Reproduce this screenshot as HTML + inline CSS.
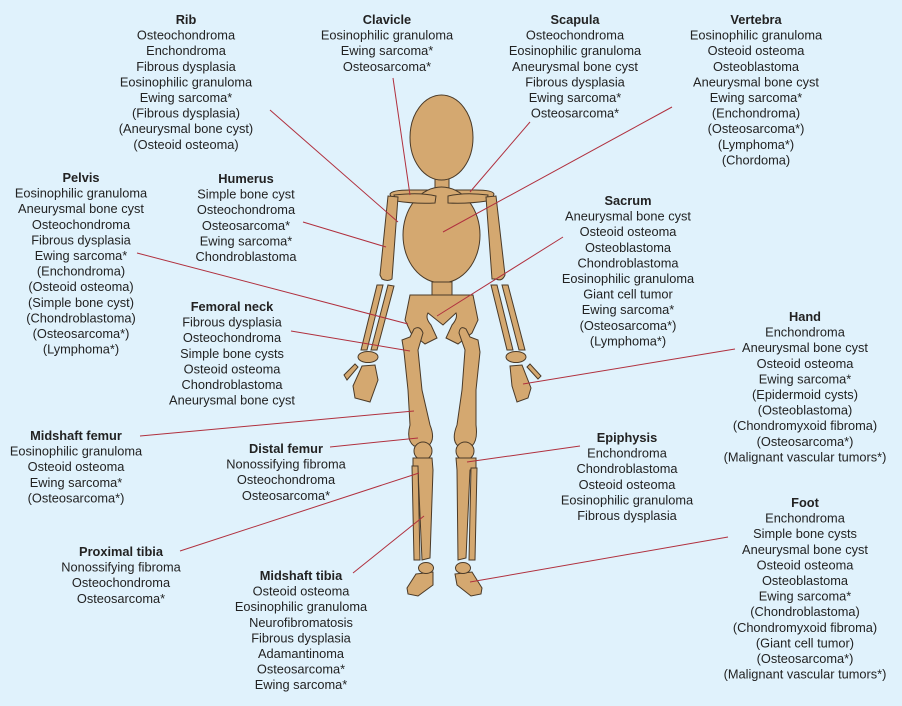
<!DOCTYPE html>
<html><head><meta charset="utf-8"><style>
html,body{margin:0;padding:0;background:#e0f2fc;}
svg{display:block;}
text{font-family:"Liberation Sans",Arial,sans-serif;font-size:12.8px;fill:#222;text-anchor:middle;}
.t{font-weight:bold;}
.b{fill:#d4a870;stroke:#4a3a28;stroke-width:1;}
.l{stroke:#b0303e;stroke-width:1;fill:none;}
</style></head><body>
<svg width="902" height="706" viewBox="0 0 902 706" xmlns="http://www.w3.org/2000/svg">
<rect width="902" height="706" fill="#e0f2fc"/>
<g class="b">
<rect x="435" y="176" width="14" height="14"/>
<ellipse cx="441.5" cy="137.5" rx="31.5" ry="42.5"/>
<path d="M390,194 Q392,190 410,190 L475,190 Q493,190 494,194 L492,200 Q470,196 441,200 Q410,196 392,200 Z"/>
<ellipse cx="441.5" cy="235" rx="38.5" ry="48"/>
<rect x="432" y="282" width="20" height="14"/>
<path d="M394,195 Q420,192 436,196 L435,203 Q415,204 396,201 Z"/>
<path d="M448,196 Q465,192 488,195 L487,201 Q467,204 448,203 Z"/>
<path d="M388,196 L398,197 L392,279 Q388,282 382,279 L380,275 Z"/>
<path d="M486,197 L496,196 L505,275 Q502,282 496,279 L492,279 Z"/>
<path d="M377,285 L383,285 L367,350 L361,350 Z" />
<path d="M388,285 L394,286 L377,350 L371,350 Z"/>
<path d="M491,285 L497,285 L513,350 L507,350 Z"/>
<path d="M502,285 L508,285 L525,350 L519,350 Z"/>
<ellipse cx="368" cy="357" rx="10" ry="5.5"/>
<ellipse cx="516" cy="357" rx="10" ry="5.5"/>
<path d="M362,366 L375,365 L378,380 L370,402 L355,398 L353,386 Z"/>
<path d="M510,366 L522,365 L531,388 L528,398 L517,402 L512,386 Z"/>
<path d="M344,375 L355,364 L358,367 L347,380 Z"/>
<path d="M527,367 L530,364 L541,376 L538,379 Z"/>
<path d="M410,295 L473,295 L478,320 L472,333 L458,344 L446,338 L452,325 Q458,318 456,313 L443,325 L428,313 Q425,318 431,325 L437,338 L425,344 L411,333 L405,320 Z"/>
<path d="M402,340 L410,337 L414,329 Q420,325 423,333 L418,350 L422,390 L430,425 Q436,440 428,446 L414,446 Q406,440 410,425 L408,390 L404,352 Z"/>
<path d="M478,340 L470,337 L466,329 Q460,325 459,333 L465,350 L462,390 L457,425 Q451,440 458,446 L472,446 Q478,440 476,425 L476,390 L480,352 Z"/>
<circle cx="423" cy="451" r="9"/>
<circle cx="465" cy="451" r="9"/>
<path d="M413,458 L432,458 L433,470 L430,558 L422,560 L418,470 L413,468 Z"/>
<path d="M412,466 L418,466 L420,560 L414,560 Z"/>
<path d="M456,458 L476,458 L476,468 L470,470 L466,558 L458,560 L457,470 Z"/>
<path d="M471,468 L477,468 L475,560 L469,560 Z"/>
<path d="M416,574 L433,572 L433,585 L418,596 L408,594 L407,588 Z"/>
<ellipse cx="426" cy="568" rx="7.5" ry="5.5"/>
<path d="M455,574 L472,572 L482,588 L481,594 L471,596 L457,585 Z"/>
<ellipse cx="463" cy="568" rx="7.5" ry="5.5"/>
</g>
<g class="l">
<line x1="270" y1="110" x2="398" y2="222"/>
<line x1="393" y1="78" x2="410" y2="195"/>
<line x1="530" y1="122" x2="470" y2="192"/>
<line x1="672" y1="107" x2="443" y2="232"/>
<line x1="303" y1="222" x2="386" y2="247"/>
<line x1="137" y1="253" x2="408" y2="324"/>
<line x1="563" y1="237" x2="437" y2="316"/>
<line x1="291" y1="331" x2="410" y2="351"/>
<line x1="735" y1="349" x2="523" y2="384"/>
<line x1="140" y1="436" x2="414" y2="411"/>
<line x1="330" y1="447" x2="418" y2="438"/>
<line x1="180" y1="551" x2="419" y2="473"/>
<line x1="580" y1="446" x2="467" y2="462"/>
<line x1="353" y1="573" x2="424" y2="516"/>
<line x1="728" y1="537" x2="470" y2="582"/>
</g>
<text x="186" y="24"><tspan class="t">Rib</tspan><tspan x="186" dy="15.6">Osteochondroma</tspan><tspan x="186" dy="15.6">Enchondroma</tspan><tspan x="186" dy="15.6">Fibrous dysplasia</tspan><tspan x="186" dy="15.6">Eosinophilic granuloma</tspan><tspan x="186" dy="15.6">Ewing sarcoma*</tspan><tspan x="186" dy="15.6">(Fibrous dysplasia)</tspan><tspan x="186" dy="15.6">(Aneurysmal bone cyst)</tspan><tspan x="186" dy="15.6">(Osteoid osteoma)</tspan></text>
<text x="387" y="24"><tspan class="t">Clavicle</tspan><tspan x="387" dy="15.6">Eosinophilic granuloma</tspan><tspan x="387" dy="15.6">Ewing sarcoma*</tspan><tspan x="387" dy="15.6">Osteosarcoma*</tspan></text>
<text x="575" y="24"><tspan class="t">Scapula</tspan><tspan x="575" dy="15.6">Osteochondroma</tspan><tspan x="575" dy="15.6">Eosinophilic granuloma</tspan><tspan x="575" dy="15.6">Aneurysmal bone cyst</tspan><tspan x="575" dy="15.6">Fibrous dysplasia</tspan><tspan x="575" dy="15.6">Ewing sarcoma*</tspan><tspan x="575" dy="15.6">Osteosarcoma*</tspan></text>
<text x="756" y="24"><tspan class="t">Vertebra</tspan><tspan x="756" dy="15.6">Eosinophilic granuloma</tspan><tspan x="756" dy="15.6">Osteoid osteoma</tspan><tspan x="756" dy="15.6">Osteoblastoma</tspan><tspan x="756" dy="15.6">Aneurysmal bone cyst</tspan><tspan x="756" dy="15.6">Ewing sarcoma*</tspan><tspan x="756" dy="15.6">(Enchondroma)</tspan><tspan x="756" dy="15.6">(Osteosarcoma*)</tspan><tspan x="756" dy="15.6">(Lymphoma*)</tspan><tspan x="756" dy="15.6">(Chordoma)</tspan></text>
<text x="81" y="182"><tspan class="t">Pelvis</tspan><tspan x="81" dy="15.6">Eosinophilic granuloma</tspan><tspan x="81" dy="15.6">Aneurysmal bone cyst</tspan><tspan x="81" dy="15.6">Osteochondroma</tspan><tspan x="81" dy="15.6">Fibrous dysplasia</tspan><tspan x="81" dy="15.6">Ewing sarcoma*</tspan><tspan x="81" dy="15.6">(Enchondroma)</tspan><tspan x="81" dy="15.6">(Osteoid osteoma)</tspan><tspan x="81" dy="15.6">(Simple bone cyst)</tspan><tspan x="81" dy="15.6">(Chondroblastoma)</tspan><tspan x="81" dy="15.6">(Osteosarcoma*)</tspan><tspan x="81" dy="15.6">(Lymphoma*)</tspan></text>
<text x="246" y="183"><tspan class="t">Humerus</tspan><tspan x="246" dy="15.6">Simple bone cyst</tspan><tspan x="246" dy="15.6">Osteochondroma</tspan><tspan x="246" dy="15.6">Osteosarcoma*</tspan><tspan x="246" dy="15.6">Ewing sarcoma*</tspan><tspan x="246" dy="15.6">Chondroblastoma</tspan></text>
<text x="628" y="205"><tspan class="t">Sacrum</tspan><tspan x="628" dy="15.6">Aneurysmal bone cyst</tspan><tspan x="628" dy="15.6">Osteoid osteoma</tspan><tspan x="628" dy="15.6">Osteoblastoma</tspan><tspan x="628" dy="15.6">Chondroblastoma</tspan><tspan x="628" dy="15.6">Eosinophilic granuloma</tspan><tspan x="628" dy="15.6">Giant cell tumor</tspan><tspan x="628" dy="15.6">Ewing sarcoma*</tspan><tspan x="628" dy="15.6">(Osteosarcoma*)</tspan><tspan x="628" dy="15.6">(Lymphoma*)</tspan></text>
<text x="232" y="311"><tspan class="t">Femoral neck</tspan><tspan x="232" dy="15.6">Fibrous dysplasia</tspan><tspan x="232" dy="15.6">Osteochondroma</tspan><tspan x="232" dy="15.6">Simple bone cysts</tspan><tspan x="232" dy="15.6">Osteoid osteoma</tspan><tspan x="232" dy="15.6">Chondroblastoma</tspan><tspan x="232" dy="15.6">Aneurysmal bone cyst</tspan></text>
<text x="805" y="321"><tspan class="t">Hand</tspan><tspan x="805" dy="15.6">Enchondroma</tspan><tspan x="805" dy="15.6">Aneurysmal bone cyst</tspan><tspan x="805" dy="15.6">Osteoid osteoma</tspan><tspan x="805" dy="15.6">Ewing sarcoma*</tspan><tspan x="805" dy="15.6">(Epidermoid cysts)</tspan><tspan x="805" dy="15.6">(Osteoblastoma)</tspan><tspan x="805" dy="15.6">(Chondromyxoid fibroma)</tspan><tspan x="805" dy="15.6">(Osteosarcoma*)</tspan><tspan x="805" dy="15.6">(Malignant vascular tumors*)</tspan></text>
<text x="76" y="440"><tspan class="t">Midshaft femur</tspan><tspan x="76" dy="15.6">Eosinophilic granuloma</tspan><tspan x="76" dy="15.6">Osteoid osteoma</tspan><tspan x="76" dy="15.6">Ewing sarcoma*</tspan><tspan x="76" dy="15.6">(Osteosarcoma*)</tspan></text>
<text x="286" y="453"><tspan class="t">Distal femur</tspan><tspan x="286" dy="15.6">Nonossifying fibroma</tspan><tspan x="286" dy="15.6">Osteochondroma</tspan><tspan x="286" dy="15.6">Osteosarcoma*</tspan></text>
<text x="627" y="442"><tspan class="t">Epiphysis</tspan><tspan x="627" dy="15.6">Enchondroma</tspan><tspan x="627" dy="15.6">Chondroblastoma</tspan><tspan x="627" dy="15.6">Osteoid osteoma</tspan><tspan x="627" dy="15.6">Eosinophilic granuloma</tspan><tspan x="627" dy="15.6">Fibrous dysplasia</tspan></text>
<text x="805" y="507"><tspan class="t">Foot</tspan><tspan x="805" dy="15.6">Enchondroma</tspan><tspan x="805" dy="15.6">Simple bone cysts</tspan><tspan x="805" dy="15.6">Aneurysmal bone cyst</tspan><tspan x="805" dy="15.6">Osteoid osteoma</tspan><tspan x="805" dy="15.6">Osteoblastoma</tspan><tspan x="805" dy="15.6">Ewing sarcoma*</tspan><tspan x="805" dy="15.6">(Chondroblastoma)</tspan><tspan x="805" dy="15.6">(Chondromyxoid fibroma)</tspan><tspan x="805" dy="15.6">(Giant cell tumor)</tspan><tspan x="805" dy="15.6">(Osteosarcoma*)</tspan><tspan x="805" dy="15.6">(Malignant vascular tumors*)</tspan></text>
<text x="121" y="556"><tspan class="t">Proximal tibia</tspan><tspan x="121" dy="15.6">Nonossifying fibroma</tspan><tspan x="121" dy="15.6">Osteochondroma</tspan><tspan x="121" dy="15.6">Osteosarcoma*</tspan></text>
<text x="301" y="580"><tspan class="t">Midshaft tibia</tspan><tspan x="301" dy="15.6">Osteoid osteoma</tspan><tspan x="301" dy="15.6">Eosinophilic granuloma</tspan><tspan x="301" dy="15.6">Neurofibromatosis</tspan><tspan x="301" dy="15.6">Fibrous dysplasia</tspan><tspan x="301" dy="15.6">Adamantinoma</tspan><tspan x="301" dy="15.6">Osteosarcoma*</tspan><tspan x="301" dy="15.6">Ewing sarcoma*</tspan></text>
</svg>
</body></html>
